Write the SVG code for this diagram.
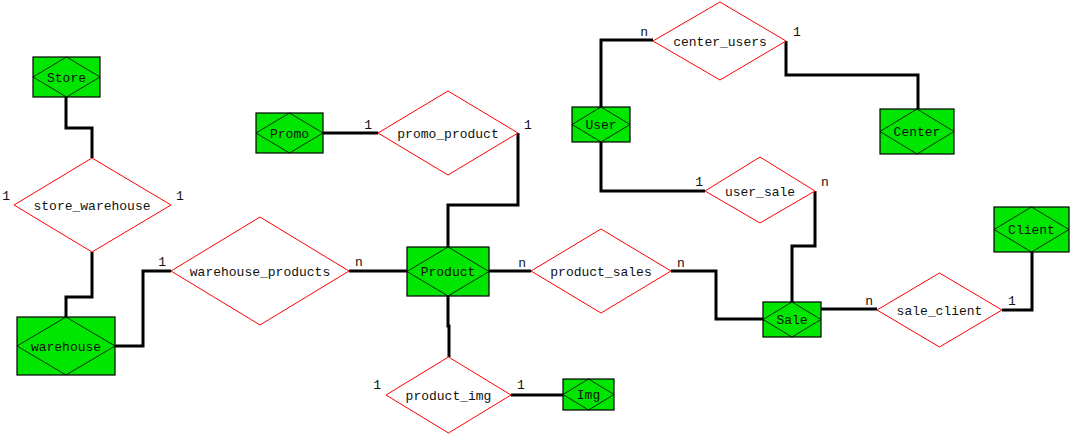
<svg xmlns="http://www.w3.org/2000/svg" width="1071" height="434" viewBox="0 0 1071 434">
<style>
.ent rect{fill:#00e600;stroke:#000;stroke-width:1.2}
.ent polygon{fill:none;stroke:#000;stroke-width:0.8}
.rel polygon{fill:#fff;stroke:#f00;stroke-width:1}
text{font-family:"Liberation Mono","Courier New",monospace;font-size:13px;fill:#111}
.c{text-anchor:middle}
.e{text-anchor:end}
#connectors polyline{fill:none;stroke:#000;stroke-width:3}
</style>
<rect width="1071" height="434" fill="#fff"/>
<g id="connectors">
<polyline points="66,97 66,128 92,128 92,158"/>
<polyline points="92,252 92,297 66,297 66,317"/>
<polyline points="115,346 143,346 143,271 171,271"/>
<polyline points="349,271 407,271"/>
<polyline points="323,133 378,133"/>
<polyline points="448,247 448,205 518,205 518,133"/>
<polyline points="489,271 531,271"/>
<polyline points="448,296 448,326 449,326 449,357"/>
<polyline points="511,395 563,395"/>
<polyline points="671,271 716,271 716,319 763,319"/>
<polyline points="601,107 601,40 653,40"/>
<polyline points="786,41 786,75 918,75 918,109"/>
<polyline points="601,142 601,191 705,191"/>
<polyline points="792,302 792,246 815,246 815,191"/>
<polyline points="821,309 877,309"/>
<polyline points="1002,310 1032,310 1032,252"/>
</g>
<g id="Store" class="ent"><rect x="33" y="57" width="67" height="40"/><polygon points="33,77 66.5,57 100,77 66.5,97"/><text class="c" x="66.5" y="81.5">Store</text></g>
<g id="warehouse" class="ent"><rect x="17" y="317" width="98" height="58"/><polygon points="17,346 66,317 115,346 66,375"/><text class="c" x="66" y="350.5">warehouse</text></g>
<g id="Promo" class="ent"><rect x="256" y="113" width="67" height="40"/><polygon points="256,133 289.5,113 323,133 289.5,153"/><text class="c" x="289.5" y="137.5">Promo</text></g>
<g id="Product" class="ent"><rect x="407" y="247" width="82" height="49"/><polygon points="407,271.5 448,247 489,271.5 448,296"/><text class="c" x="448" y="276">Product</text></g>
<g id="Img" class="ent"><rect x="563" y="379" width="51" height="31"/><polygon points="563,394.5 588.5,379 614,394.5 588.5,410"/><text class="c" x="588.5" y="399">Img</text></g>
<g id="User" class="ent"><rect x="572" y="107" width="58" height="35"/><polygon points="572,124.5 601,107 630,124.5 601,142"/><text class="c" x="601" y="129">User</text></g>
<g id="Center" class="ent"><rect x="880" y="109" width="74" height="45"/><polygon points="880,131.5 917,109 954,131.5 917,154"/><text class="c" x="917" y="136">Center</text></g>
<g id="Sale" class="ent"><rect x="763" y="302" width="58" height="35"/><polygon points="763,319.5 792,302 821,319.5 792,337"/><text class="c" x="792" y="324">Sale</text></g>
<g id="Client" class="ent"><rect x="994" y="207" width="75" height="45"/><polygon points="994,229.5 1031.5,207 1069,229.5 1031.5,252"/><text class="c" x="1031.5" y="234">Client</text></g>
<g id="store_warehouse" class="rel"><polygon points="14,205 92,158 171,205 92,252"/><text class="c" x="92" y="209.5">store_warehouse</text><text class="e" x="10" y="200">1</text><text x="176" y="200">1</text></g>
<g id="warehouse_products" class="rel"><polygon points="171,271 260,217 349,271 260,325"/><text class="c" x="260" y="275.5">warehouse_products</text><text class="e" x="166" y="266">1</text><text x="355" y="266">n</text></g>
<g id="promo_product" class="rel"><polygon points="378,133 448,91 518,133 448,175"/><text class="c" x="448" y="137.5">promo_product</text><text class="e" x="372" y="129">1</text><text x="524" y="129">1</text></g>
<g id="product_sales" class="rel"><polygon points="531,271 601,229 671,271 601,313"/><text class="c" x="601" y="275.5">product_sales</text><text class="e" x="526" y="266.5">n</text><text x="677" y="266.5">n</text></g>
<g id="product_img" class="rel"><polygon points="386,395 448.5,357 511,395 448.5,433"/><text class="c" x="448.5" y="399.5">product_img</text><text class="e" x="381" y="389">1</text><text x="517" y="389">1</text></g>
<g id="center_users" class="rel"><polygon points="653,41 720,2 786,41 720,80"/><text class="c" x="720" y="45.5">center_users</text><text class="e" x="648" y="36">n</text><text x="793" y="36">1</text></g>
<g id="user_sale" class="rel"><polygon points="705,191 760,157 815,191 760,223"/><text class="c" x="760" y="195.5">user_sale</text><text class="e" x="703" y="186">1</text><text x="821" y="186">n</text></g>
<g id="sale_client" class="rel"><polygon points="877,310 939.5,273 1002,310 939.5,347"/><text class="c" x="939.5" y="314.5">sale_client</text><text class="e" x="873" y="305">n</text><text x="1008" y="305">1</text></g>
</svg>
